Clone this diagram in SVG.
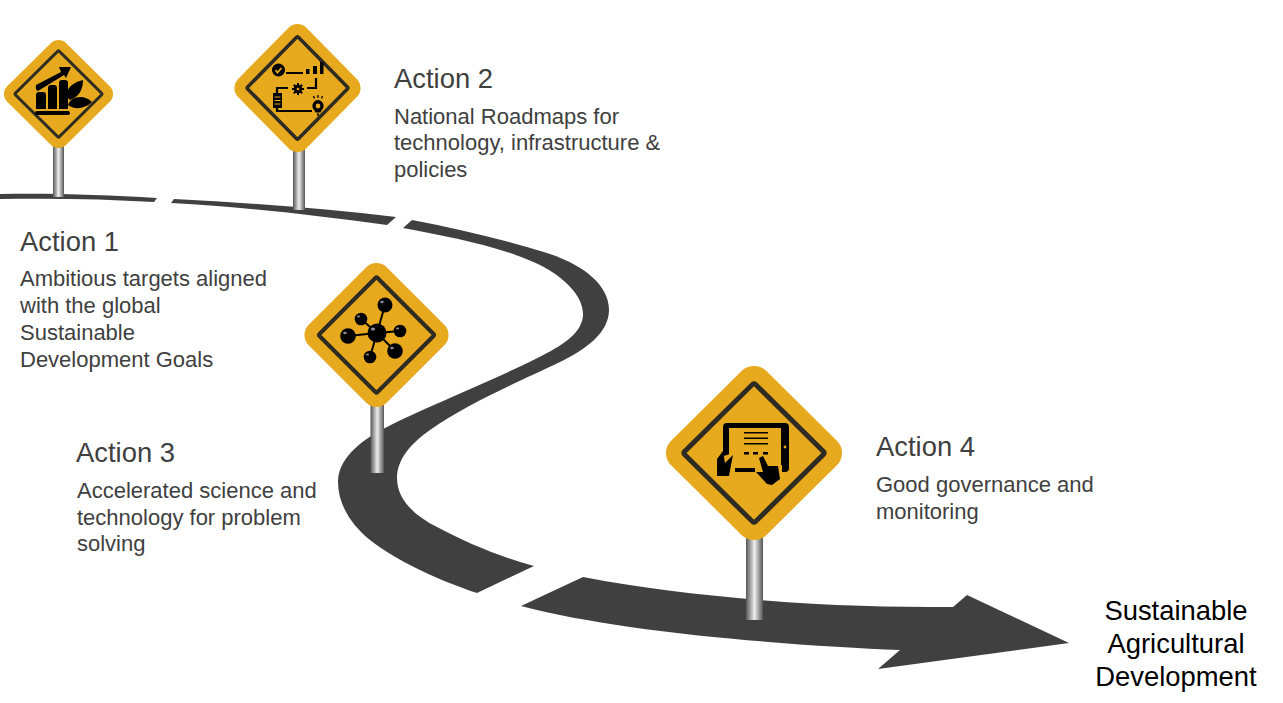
<svg xmlns="http://www.w3.org/2000/svg" width="1283" height="703" viewBox="0 0 1283 703">
<style>
text{font-family:"Liberation Sans",Arial,sans-serif;fill:#404040}
.h{font-size:27.4px}
.b{font-size:22px}
.g{font-size:27.4px;fill:#000;text-anchor:middle}
.road{fill:#404040}
.plate{fill:#E7A91E}
.rim{fill:none;stroke:#2D2B22;stroke-width:5.6}
.pole{fill:url(#steel)}
.k{fill:#000}
.ln{fill:none;stroke:#000;stroke-width:2.200}
.o{fill:#E7A91E}
.hi{fill:#fff;opacity:.55}
</style>
<defs>
<linearGradient id="steel"><stop offset="0" stop-color="#555"/><stop offset=".5" stop-color="#eee"/><stop offset="1" stop-color="#555"/></linearGradient>
<g id="board">
<rect class="plate" x="-76.6" y="-76.6" width="153.2" height="153.2" rx="20" transform="rotate(45)"/>
<rect class="rim" x="-57" y="-57" width="114" height="114" rx="2" transform="rotate(45)"/>
</g>
</defs>
<g id="connectors">
<path class="road" d="M0 194C55 193 105 195 157 198L154 202C105 199 55 198 0 199Z"/>
<path class="road" d="M174 199C250 203 325 208 396 217L387 225C315 215 245 207 171 203Z"/>
<path class="road" d="M412 220C460 229 505 240 547 253C584 265 609 285 609 310C609 333 585 350 560 362C525 379 470 402 430 430C410 444 397 460 397 478C397 500 415 516 437 527C465 542 500 557 534 566L477 593C440 581 395 560 370 540C350 524 338 503 338 482C338 460 358 442 385 428C425 407 500 378 547 353C568 342 583 330 583 314C583 296 565 278 540 265C500 246 450 237 403 228Z"/>
<path class="road" d="M583 577C640 588 700 595 760 600C830 606 890 607 953 607L967 595L1069 643L878 669L900 650C830 647 720 640 630 627C590 621 555 615 521 606Z"/>
</g>
<g id="sign1">
<rect class="pole" x="53" y="140" width="11" height="57"/>
<use href="#board" transform="translate(58.500 94) scale(.545 .54)"/>
<path class="k" d="M36 95q0-3 3-3h4q3 0 3 3v14h-10ZM48 88q0-3 3-3h3q3 0 3 3v21h-9ZM59 83q0-3 3-3h3q3 0 3 3v26h-9Z"/>
<rect class="k" x="35" y="111" width="35" height="4" rx="2"/>
<path class="k" d="M36 85L61 72L59 67L71 67L66 78L64 75L38 91Q35 90 36 85Z"/>
<path class="k" d="M68 98C65 88 72 83 83 80C83 91 78 97 70 100Z"/>
<path class="k" d="M68 105C71 96 84 94 92 102C85 109 74 110 68 105Z"/>
</g>
<g id="sign2">
<rect class="pole" x="293" y="145" width="12" height="65"/>
<use href="#board" transform="translate(297.500 88) scale(.63 .64)"/>
<circle class="k" cx="278.500" cy="70" r="6.500"/>
<path fill="none" stroke="#E7A91E" stroke-width="1.800" d="M275.500 70l2 2.500l4-4.500"/>
<path class="ln" d="M286 73H303M316 78V88H307M288 88H277V93M277 107V111H312"/>
<path class="k" d="M306 69h3.500v5h-3.500ZM313 66h4v8h-4ZM320 62h3.500v12h-3.500Z"/>
<circle class="k" cx="298" cy="89" r="4.200"/>
<path fill="none" stroke="#000" stroke-width="2" d="M298 83v12M292 89h12M293.800 84.800l8.400 8.400M302.200 84.800l-8.400 8.400"/>
<circle class="o" cx="298" cy="89" r="1.300"/>
<rect class="k" x="273" y="93" width="9" height="15"/>
<path fill="none" stroke="#E7A91E" stroke-width="1.200" d="M274.500 97h6M274.500 100.500h6M274.500 104h6"/>
<path class="k" d="M318 100a6 6 0 0 1 3.500 10.500l-1 2h-5l-1-2a6 6 0 0 1 3.500-10.500Z"/>
<circle class="o" cx="318" cy="106" r="2.400"/>
<rect class="k" x="317" y="113.500" width="2" height="2"/>
<path fill="none" stroke="#000" stroke-width="1.300" d="M313.500 96l1 2.500M318 95v3M322.500 96l-1 2.500"/>
</g>
<g id="sign3">
<rect class="pole" x="370.500" y="400" width="13.500" height="73"/>
<use href="#board" transform="translate(376.500 335) scale(.72 .72)"/>
<path fill="none" stroke="#000" stroke-width="2" d="M377 333L385 305M377 333L361 319M377 333L348 336M377 333L400 331M377 333L395 351M377 333L370 357"/>
<circle class="k" cx="377" cy="333" r="9.500"/><ellipse class="hi" cx="373" cy="329" rx="2.200" ry="1.500"/>
<circle class="k" cx="385" cy="305" r="7.500"/><ellipse class="hi" cx="382" cy="302" rx="1.800" ry="1.200"/>
<circle class="k" cx="361" cy="319" r="6.300"/><ellipse class="hi" cx="358.500" cy="316.500" rx="1.600" ry="1"/>
<circle class="k" cx="348" cy="336" r="7.800"/><ellipse class="hi" cx="345" cy="333" rx="1.800" ry="1.200"/>
<circle class="k" cx="400" cy="331" r="6.300"/><ellipse class="hi" cx="397.500" cy="328.500" rx="1.600" ry="1"/>
<circle class="k" cx="395" cy="351" r="7.800"/><ellipse class="hi" cx="392" cy="348" rx="1.800" ry="1.200"/>
<circle class="k" cx="370" cy="357" r="6.300"/><ellipse class="hi" cx="367.500" cy="354.500" rx="1.600" ry="1"/>
</g>
<g id="sign4">
<rect class="pole" x="746" y="530" width="17" height="90"/>
<use href="#board" transform="translate(754 453) scale(.88 .87)"/>
<rect class="k" x="723" y="423" width="66" height="49" rx="4"/>
<rect class="o" x="729" y="428" width="52" height="40"/>
<circle class="o" cx="785" cy="447" r="1.400"/>
<path class="k" d="M744 432h24v1.400h-24ZM744 437.500h24v1.400h-24ZM744 443h24v1.400h-24ZM744 452h5v2.500h-5ZM753 452h5v2.500h-5ZM763 452h5v2.500h-5Z"/>
<path class="o" d="M714 476V456H723L727 455L735 452V476Z"/>
<path class="k" d="M717 476V459L723 451L725 463L733 455L731 465L729 476Z"/>
<path class="o" d="M755 455H764L772 465H782V485H755Z"/>
<path class="k" d="M759 458L763 456L768 466L778 466L780 479L772 485L767 484L756 472L763 472Z"/>
</g>
<g id="labels">
<text class="h" x="20" y="251">Action 1</text>
<text class="b" x="20" y="286">Ambitious targets aligned</text>
<text class="b" x="20" y="313">with the global</text>
<text class="b" x="20" y="340">Sustainable</text>
<text class="b" x="20" y="367">Development Goals</text>
<text class="h" x="394" y="88">Action 2</text>
<text class="b" x="394" y="124">National Roadmaps for</text>
<text class="b" x="394" y="150">technology, infrastructure &amp;</text>
<text class="b" x="394" y="177">policies</text>
<text class="h" x="76" y="462">Action 3</text>
<text class="b" x="77" y="498">Accelerated science and</text>
<text class="b" x="77" y="525">technology for problem</text>
<text class="b" x="77" y="551">solving</text>
<text class="h" x="876" y="456">Action 4</text>
<text class="b" x="876" y="492">Good governance and</text>
<text class="b" x="876" y="519">monitoring</text>
<text class="g" x="1176" y="620">Sustainable</text>
<text class="g" x="1176" y="653">Agricultural</text>
<text class="g" x="1176" y="686">Development</text>
</g>
</svg>
